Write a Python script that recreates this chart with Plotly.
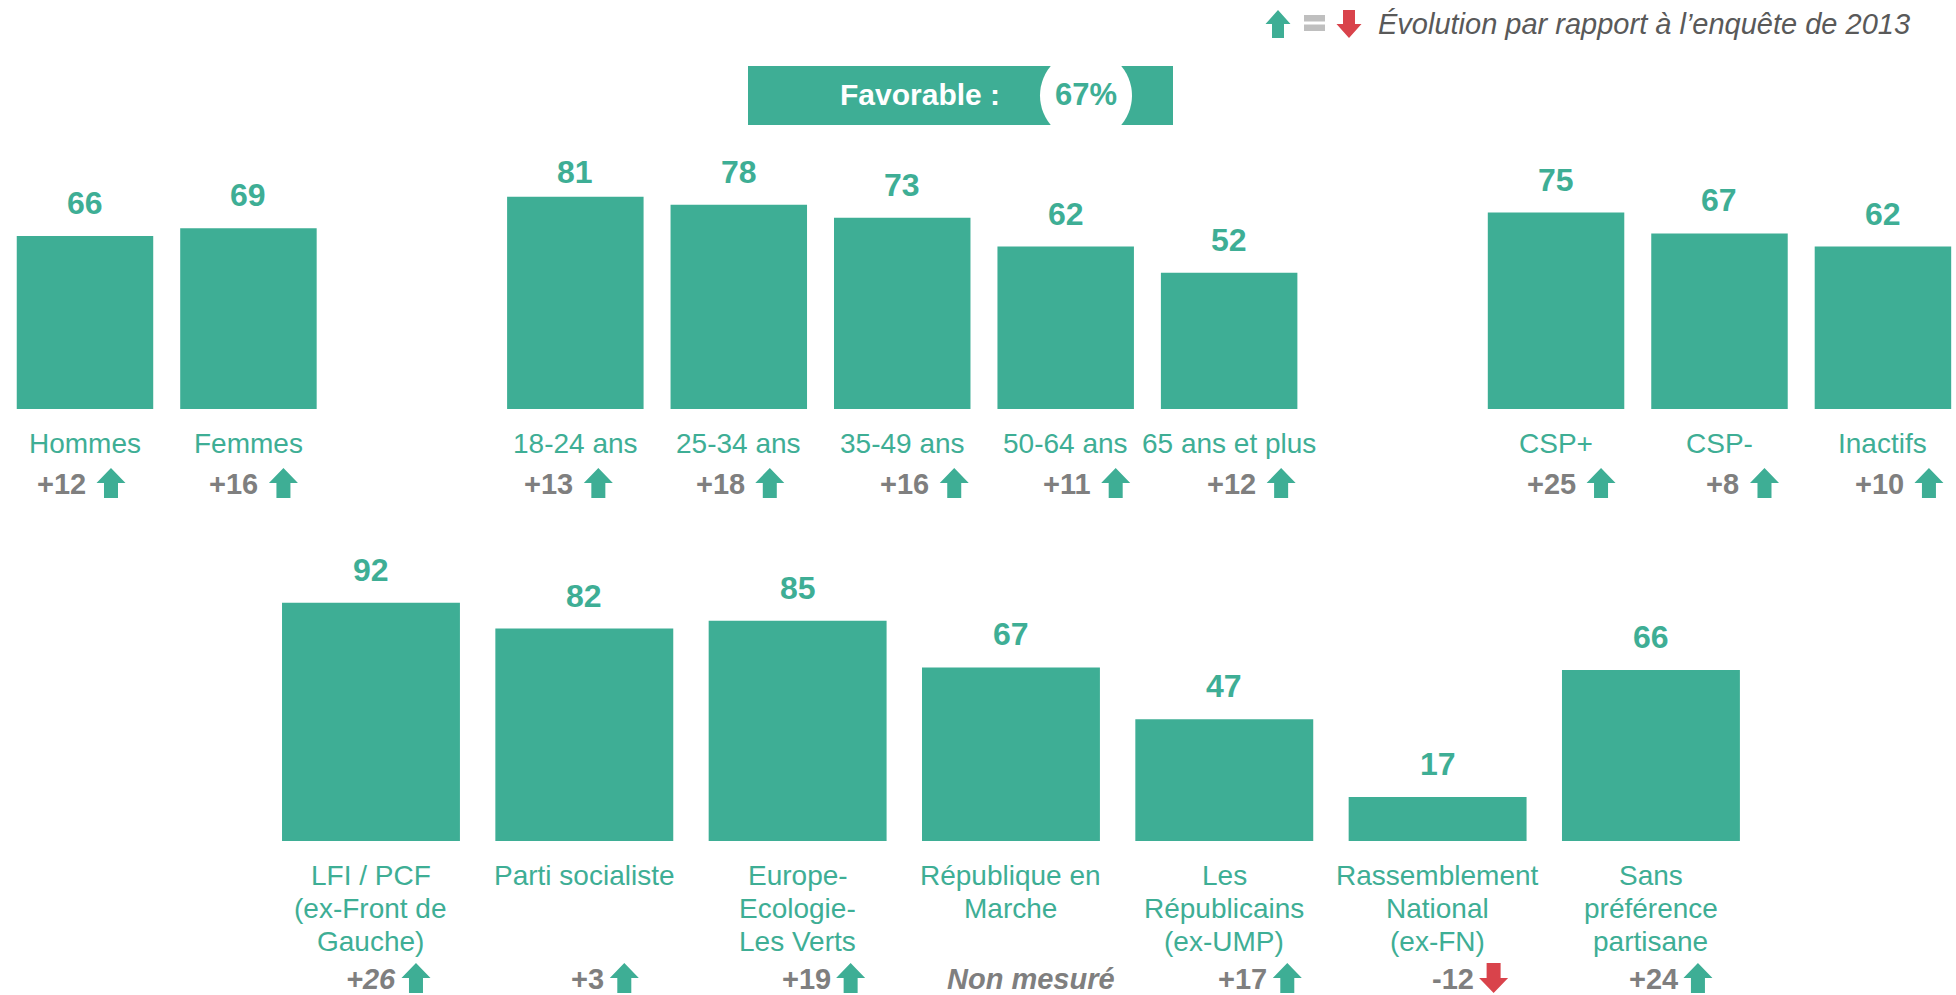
import plotly.graph_objects as go

# ---------------- data ----------------
top_groups = [
    ["Hommes", "Femmes"],
    ["18-24 ans", "25-34 ans", "35-49 ans", "50-64 ans", "65 ans et plus"],
    ["CSP+", "CSP-", "Inactifs"],
]
top_values = [66, 69, 81, 78, 73, 62, 52, 75, 67, 62]
top_deltas = ["+12", "+16", "+13", "+18", "+16", "+11", "+12", "+25", "+8", "+10"]
top_trend = ["up", "up", "up", "up", "up", "up", "up", "up", "up", "up"]

bottom_categories = [
    "LFI / PCF (ex-Front de Gauche)",
    "Parti socialiste",
    "Europe-Ecologie-Les Verts",
    "République en Marche",
    "Les Républicains (ex-UMP)",
    "Rassemblement National (ex-FN)",
    "Sans préférence partisane",
]
bottom_label_lines = [
    ["LFI / PCF", "(ex-Front de", "Gauche)"],
    ["Parti socialiste"],
    ["Europe-", "Ecologie-", "Les Verts"],
    ["République en", "Marche"],
    ["Les", "Républicains", "(ex-UMP)"],
    ["Rassemblement", "National", "(ex-FN)"],
    ["Sans", "préférence", "partisane"],
]
bottom_values = [92, 82, 85, 67, 47, 17, 66]
bottom_deltas = ["+26", "+3", "+19", "Non mesuré", "+17", "-12", "+24"]
bottom_trend = ["up", "up", "up", None, "up", "down", "up"]

overall_label = "Favorable :"
overall_value = 67
legend_text = "Évolution par rapport à l’enquête de 2013"

# ---------------- style / layout ----------------
W, H = 1956, 995
TEAL = "#3EAE95"
GREY = "#7F7F7F"
DARKGREY = "#595959"
LIGHTGREY = "#BFBFBF"
RED = "#D9434B"
FONT = "Liberation Sans, Arial, sans-serif"

# arrow horizontal offsets (px) from bar centre
top_arrow_dx = [26, 35, 23, 31, 52, 50, 52, 45, 45, 46]
bottom_arrow_dx = [45, 40, 53, 20, 63, 56, 47]
bottom_italic = [True, False, False, True, False, False, False]
top_value_yshift = [33, 33, 25, 33, 33, 33, 33, 33, 33, 33]


def py(px):  # pixel from top -> paper fraction
    return 1 - px / H


def px_x(px):
    return px / W


# category order with spacer slots between groups
top_order = []
for gi, g in enumerate(top_groups):
    if gi > 0:
        top_order.append(" " * gi)
    top_order.extend(g)
top_categories = [c for g in top_groups for c in g]

fig = go.Figure()
fig.add_bar(x=top_categories, y=top_values, xaxis="x", yaxis="y",
            marker=dict(color=TEAL, line=dict(width=0)), width=0.835,
            hoverinfo="skip")
fig.add_bar(x=bottom_categories, y=bottom_values, xaxis="x2", yaxis="y2",
            marker=dict(color=TEAL, line=dict(width=0)), width=0.834,
            hoverinfo="skip")

annotations = []
shapes = []


def arrow_path(dx, direction, hw=14.5, hh=15, sw=7, sh=15):
    if direction == "up":
        pts = [(dx - sw, -sh), (dx + sw, -sh), (dx + sw, 0), (dx + hw, 0),
               (dx, hh), (dx - hw, 0), (dx - sw, 0)]
    else:
        pts = [(dx - sw, sh), (dx + sw, sh), (dx + sw, 0), (dx + hw, 0),
               (dx, -hh), (dx - hw, 0), (dx - sw, 0)]
    return "M " + " L ".join(f"{x},{y}" for x, y in pts) + " Z"


def add_arrow(xref, xanchor, yanchor, dx, direction, **kw):
    shapes.append(dict(
        type="path", xref=xref, yref="paper",
        xsizemode="pixel", ysizemode="pixel",
        xanchor=xanchor, yanchor=yanchor,
        path=arrow_path(dx, direction, **kw),
        fillcolor=TEAL if direction == "up" else RED,
        line=dict(width=0), layer="above",
    ))


# top row
for i, (cat, v, d, t) in enumerate(zip(top_categories, top_values, top_deltas, top_trend)):
    idx = top_order.index(cat)
    annotations.append(dict(x=idx, y=v, xref="x", yref="y", text=str(v),
                            showarrow=False, yanchor="middle", yshift=top_value_yshift[i],
                            font=dict(family=FONT, size=32, color=TEAL, weight="bold")))
    annotations.append(dict(x=idx, y=py(443), xref="x", yref="paper", text=cat,
                            showarrow=False, yanchor="middle",
                            font=dict(family=FONT, size=28, color=TEAL)))
    dx = top_arrow_dx[i]
    annotations.append(dict(x=idx, y=py(484), xref="x", yref="paper", text=d,
                            showarrow=False, xanchor="right", yanchor="middle",
                            xshift=dx - 23,
                            font=dict(family=FONT, size=29, color=GREY, weight="bold")))
    if t:
        add_arrow("x", idx, py(483), dx, t)

# bottom row
for i, (cat, v, d, t) in enumerate(zip(bottom_categories, bottom_values, bottom_deltas, bottom_trend)):
    idx = bottom_categories.index(cat)
    annotations.append(dict(x=idx, y=v, xref="x2", yref="y2", text=str(v),
                            showarrow=False, yanchor="middle", yshift=33,
                            font=dict(family=FONT, size=32, color=TEAL, weight="bold")))
    for li, line in enumerate(bottom_label_lines[i]):
        annotations.append(dict(x=idx, y=py(875 + 33.3 * li), xref="x2", yref="paper",
                                text=line, showarrow=False, yanchor="middle",
                                font=dict(family=FONT, size=28, color=TEAL)))
    dx = bottom_arrow_dx[i]
    font = dict(family=FONT, size=29, color=GREY, weight="bold",
                style="italic" if bottom_italic[i] else "normal")
    common = dict(y=py(995), xref="x2", yref="paper", text=d, showarrow=False,
                  yanchor="bottom", borderpad=0, borderwidth=0, font=font)
    if t:
        annotations.append(dict(x=idx, xanchor="right", xshift=dx - 20, **common))
        add_arrow("x2", idx, py(978), dx, t)
    else:
        annotations.append(dict(x=idx, xanchor="center", xshift=dx, **common))

# banner "Favorable : 67%"
shapes.append(dict(type="rect", xref="paper", yref="paper",
                   x0=px_x(748), x1=px_x(1173), y0=py(125), y1=py(66),
                   fillcolor=TEAL, line=dict(width=0), layer="above"))
shapes.append(dict(type="circle", xref="paper", yref="paper",
                   x0=px_x(1086 - 46), x1=px_x(1086 + 46),
                   y0=py(95.5 + 46), y1=py(95.5 - 46),
                   fillcolor="white", line=dict(width=0), layer="above"))
annotations.append(dict(x=px_x(920), y=py(95), xref="paper", yref="paper",
                        text=overall_label, showarrow=False, yanchor="middle",
                        font=dict(family=FONT, size=30, color="white", weight="bold")))
annotations.append(dict(x=px_x(1086), y=py(95), xref="paper", yref="paper",
                        text=f"{overall_value}%", showarrow=False, yanchor="middle",
                        font=dict(family=FONT, size=31, color=TEAL, weight="bold")))

# legend top right
add_arrow("paper", px_x(1278), py(24), 0, "up", hw=12.5, hh=14, sw=6, sh=14)
add_arrow("paper", px_x(1349), py(24), 0, "down", hw=12.5, hh=14, sw=6, sh=14)
shapes.append(dict(type="rect", xref="paper", yref="paper",
                   x0=px_x(1304), x1=px_x(1325), y0=py(21.5), y1=py(15),
                   fillcolor=LIGHTGREY, line=dict(width=0)))
shapes.append(dict(type="rect", xref="paper", yref="paper",
                   x0=px_x(1304), x1=px_x(1325), y0=py(31), y1=py(24.5),
                   fillcolor=LIGHTGREY, line=dict(width=0)))
annotations.append(dict(x=px_x(1376), y=py(24), xref="paper", yref="paper",
                        text=legend_text, showarrow=False, xanchor="left", yanchor="middle",
                        font=dict(family=FONT, size=29, color=DARKGREY, style="italic")))

fig.update_layout(
    width=W, height=H, autosize=False,
    margin=dict(l=0, r=0, t=0, b=0, pad=0),
    paper_bgcolor="white", plot_bgcolor="white",
    showlegend=False,
    xaxis=dict(type="category", categoryorder="array", categoryarray=top_order,
               range=[-0.520, 11.447], domain=[0, 1], anchor="y", visible=False),
    yaxis=dict(range=[0, 100], domain=[py(409), py(147)], anchor="x", visible=False),
    xaxis2=dict(type="category", categoryorder="array", categoryarray=bottom_categories,
                range=[-1.739, 7.430], domain=[0, 1], anchor="y2", visible=False),
    yaxis2=dict(range=[0, 100], domain=[py(841), py(582)], anchor="x2", visible=False),
    annotations=annotations,
    shapes=shapes,
)

fig.write_html("out.html", config={"displayModeBar": False},
               post_script="document.body.style.margin='0';document.body.style.overflow='hidden';")
